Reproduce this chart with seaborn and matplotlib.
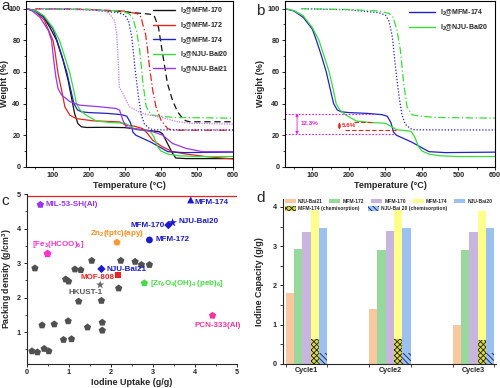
import numpy as np
import pandas as pd
import matplotlib
matplotlib.use('Agg')
import matplotlib.pyplot as plt
import seaborn as sns
from matplotlib.ticker import MultipleLocator
from matplotlib.patches import Patch
from matplotlib.lines import Line2D

sns.set_style('ticks')
plt.rcParams['font.family'] = ['Liberation Sans', 'DejaVu Sans']
plt.rcParams['font.weight'] = 'bold'
plt.rcParams['axes.labelweight'] = 'bold'
plt.rcParams['mathtext.fontset'] = 'custom'
plt.rcParams['mathtext.rm'] = 'Liberation Sans:bold'
plt.rcParams['mathtext.it'] = 'Liberation Sans:bold'
plt.rcParams['mathtext.bf'] = 'Liberation Sans:bold'
plt.rcParams['hatch.linewidth'] = 0.6

# ---------------- TGA data (panels a, b) ----------------
# I2-loaded samples (solid)
t_i2_170 = [25, 50, 70, 91, 110, 128, 142, 151, 160, 169, 179, 193, 250, 300, 321, 358, 395, 404, 418, 432, 441, 470, 600]
w_i2_170 = [100, 99, 96, 88.3, 80, 67.3, 54.7, 44.2, 33.7, 27.4, 25.3, 24.9, 25, 24.8, 24.2, 23.2, 22.2, 21, 14.8, 8.6, 5.6, 5.2, 5.2]

t_i2_172 = [25, 50, 75, 100, 105, 114, 124, 133, 147, 165, 211, 285, 303, 326, 349, 363, 377, 404, 432, 469, 524, 600]
w_i2_172 = [100, 98.5, 93, 80, 73.7, 59, 48.4, 37.9, 32.6, 30.5, 29.1, 28.4, 26.3, 25.7, 24.2, 21, 16.8, 12.7, 9.6, 8.1, 6.5, 5.0]

t_i2_174 = [25, 50, 75, 100, 111, 125, 138, 150, 158, 168, 179, 200, 250, 290, 305, 315, 322, 330, 373, 419, 464, 600]
w_i2_174 = [100, 98.5, 94.5, 87, 80, 70, 60, 48, 40, 36, 34.8, 34.3, 33.8, 33, 32, 28, 22, 20, 15.5, 9.6, 9, 9.3]

t_i2_b20 = [25, 50, 75, 100, 118, 132, 146, 158, 165, 175, 190, 220, 260, 300, 320, 330, 370, 380, 390, 400, 420, 450, 500, 600]
w_i2_b20 = [100, 98.8, 95.5, 88, 80, 70, 60, 48, 40, 36, 33, 29, 28, 27.6, 25, 23.5, 22.5, 19, 13, 10, 8, 7, 6.5, 6.5]

t_i2_b21 = [25, 40, 64, 87, 96, 102, 108, 114, 124, 147, 174, 229, 275, 285, 294, 303, 321, 377, 404, 432, 469, 515, 600]
w_i2_b21 = [100, 99, 94.5, 86.2, 80, 67.3, 56.8, 49.5, 45.4, 41.2, 39, 38, 36.9, 35.8, 29.5, 25.3, 24.2, 22.2, 20.1, 14.8, 11.7, 9.6, 9.6]

# pristine MOFs (broken lines)
t_m170 = [50, 200, 300, 370, 381, 393, 400, 409, 418, 432, 446, 460, 469, 480, 600]
w_m170 = [100, 99.5, 98, 96.5, 95.6, 88.3, 77.8, 65.2, 52.6, 42, 34.8, 30.6, 29.1, 28.5, 28.5]

t_m172 = [50, 200, 300, 335, 345, 349, 357, 363, 368, 377, 386, 400, 418, 432, 600]
w_m172 = [100, 99.5, 98.5, 96.7, 94.6, 90.4, 84.1, 73.6, 63.1, 48.4, 37.9, 29.5, 24.2, 23.2, 23.2]

t_m174 = [70, 200, 280, 300, 310, 319, 328, 337, 345, 354, 368, 380, 600]
w_m174 = [100, 99.3, 97.5, 96, 92, 82, 62, 45, 33, 27, 24.2, 23.4, 23.3]

t_mb20 = [70, 200, 283, 310, 321, 332, 341, 350, 359, 373, 395, 441, 600]
w_mb20 = [100, 99.5, 98.5, 97, 94.5, 86, 73.6, 52.6, 38, 32.9, 32, 31.2, 30.8]

t_mb21 = [50, 150, 220, 243, 257, 271, 277, 282, 284, 294, 312, 349, 413, 446, 487, 600]
w_mb21 = [100, 99.5, 99, 98.7, 96.7, 92.5, 84, 63.1, 50.5, 46.4, 38, 33.7, 30.6, 28.5, 27.5, 27]

# panel b annotations
b_pink_levels = [33.7, 20.5]
b_red_levels = [28.2, 23.5]

# ---------------- panel c data ----------------
gray_x = [0.20, 0.93, 1.00, 1.15, 1.29, 1.55, 2.24, 2.58, 2.73, 2.92, 2.19, 1.24, 1.78,
          0.37, 0.66, 0.99, 1.45, 1.80, 1.80, 0.88, 1.07, 0.13, 0.26, 0.42, 0.53]
gray_y = [2.85, 2.53, 2.47, 2.82, 2.80, 3.07, 3.07, 3.04, 2.95, 2.95, 2.27, 1.89, 1.91,
          1.20, 1.23, 1.32, 1.14, 1.28, 1.05, 0.78, 0.80, 0.45, 0.42, 0.52, 0.45]

lab_names = ['MIL-53-SH(Al)', 'MFM-174', 'MFM-170', 'NJU-Bai20', 'Zn$_2$(tptc)(apy)',
             'MFM-172', '[Fe$_3$(HCOO)$_6$]', 'NJU-Bai21', 'MOF-808', 'HKUST-1',
             '[Zr$_6$O$_4$(OH)$_4$ (peb)$_6$]', 'PCN-333(Al)']
lab_x = [0.33, 3.90, 3.37, 3.47, 2.15, 2.92, 0.50, 1.78, 2.17, 1.75, 2.80, 4.42]
lab_y = [4.69, 4.83, 4.10, 4.17, 3.60, 3.67, 3.27, 2.83, 2.65, 2.37, 2.42, 1.48]
limit_density = 4.93

# ---------------- panel d data ----------------
cycles = ['Cycle1', 'Cycle2', 'Cycle3']
materials = ['NJU-Bai21', 'MFM-172', 'MFM-170', 'MFM-174', 'NJU-Bai20']
cap_bai21 = [1.80, 1.40, 1.00]
cap_172 = [2.92, 2.89, 2.90]
cap_170 = [3.37, 3.38, 3.37]
cap_174 = [3.93, 3.93, 3.90]
cap_bai20 = [3.47, 3.46, 3.47]
chem_174 = [0.63, 0.63, 0.62]
chem_bai20 = [0.27, 0.27, 0.27]

# ---------------- style ----------------
C_BLACK = '#111111'
C_RED = '#E3261F'
C_BLUE = '#2121C4'
C_GREEN = '#3ADB3A'
C_PURPLE = '#9A35F0'
C_LPURPLE = '#C67CF7'
LABEL_FS = 6.5
TICK_FS = 5.2

fig = plt.figure(figsize=(5, 3.88), dpi=100)


def style_tga(ax, ylx):
    ax.set_xlim(25, 600)
    ax.set_ylim(0, 105)
    ax.xaxis.set_major_locator(MultipleLocator(100))
    ax.xaxis.set_minor_locator(MultipleLocator(50))
    ax.yaxis.set_major_locator(MultipleLocator(20))
    ax.yaxis.set_minor_locator(MultipleLocator(10))
    ax.set_xticks([100, 200, 300, 400, 500, 600])
    ax.tick_params(which='major', direction='out', length=2.5, width=0.7, labelsize=TICK_FS, pad=1.5)
    ax.tick_params(which='minor', direction='out', length=1.5, width=0.6)
    for s in ax.spines.values():
        s.set_linewidth(0.8)
        s.set_color('black')
    ax.set_xlabel('Temperature (°C)', fontsize=LABEL_FS, labelpad=1)
    ax.set_ylabel('Weight (%)', fontsize=LABEL_FS)
    ax.yaxis.set_label_coords(ylx, 0.5)


def line(ax, t, w, color, ls, lw=0.9, label=None):
    sns.lineplot(x=t, y=w, ax=ax, color=color, linestyle=ls, linewidth=lw,
                 sort=False, estimator=None, label=label, legend=False)

# ---------------- panel a ----------------
axa = fig.add_axes([0.052, 0.570, 0.414, 0.428])
line(axa, t_m170, w_m170, C_BLACK, (0, (5, 3)))
line(axa, t_m172, w_m172, C_RED, (0, (6, 2, 1, 2)))
line(axa, t_m174, w_m174, C_BLUE, (0, (1, 1.5)))
line(axa, t_mb20, w_mb20, C_GREEN, (0, (6, 2, 1, 2)))
line(axa, t_mb21, w_mb21, C_LPURPLE, (0, (1, 1)))
line(axa, t_i2_170, w_i2_170, C_BLACK, '-')
line(axa, t_i2_172, w_i2_172, C_RED, '-')
line(axa, t_i2_174, w_i2_174, C_BLUE, '-')
line(axa, t_i2_b20, w_i2_b20, C_GREEN, '-')
line(axa, t_i2_b21, w_i2_b21, C_PURPLE, '-')
style_tga(axa, -0.08)
hs = [Line2D([], [], color=c, lw=1) for c in [C_BLACK, C_RED, C_BLUE, C_GREEN, C_PURPLE]]
axa.legend(hs, ['I$_2$@MFM-170', 'I$_2$@MFM-172', 'I$_2$@MFM-174', 'I$_2$@NJU-Bai20', 'I$_2$@NJU-Bai21'],
           loc='upper right', frameon=False, fontsize=5, handlelength=3.2, labelspacing=0.55,
           borderaxespad=0.3, handletextpad=0.6)

# ---------------- panel b ----------------
axb = fig.add_axes([0.570, 0.570, 0.420, 0.428])
line(axb, t_m174, w_m174, C_BLUE, (0, (1, 1.5)))
line(axb, t_mb20, w_mb20, C_GREEN, (0, (6, 2, 1, 2)))
line(axb, t_i2_174, w_i2_174, C_BLUE, '-')
line(axb, t_i2_b20, w_i2_b20, C_GREEN, '-')
style_tga(axb, -0.095)
axb.hlines(b_pink_levels[0], 25, 268, colors='#E020E0', linestyles=(0, (1.5, 1.5)), lw=0.8)
axb.hlines(b_pink_levels[1], 25, 325, colors='#E020E0', linestyles=(0, (1.5, 1.5)), lw=0.8)
axb.hlines(b_red_levels[0], 215, 262, colors=C_RED, linestyles=(0, (4, 2)), lw=0.8)
axb.hlines(b_red_levels[1], 190, 330, colors=C_RED, linestyles=(0, (4, 2)), lw=0.8)
axb.annotate('', xy=(58, b_pink_levels[1]), xytext=(58, b_pink_levels[0]),
             arrowprops=dict(arrowstyle='<|-|>', color='#E020E0', lw=0.6, mutation_scale=4,
                             shrinkA=0, shrinkB=0))
axb.text(68, 27.2, '12.3%', color='#E020E0', fontsize=4.5, va='center')
axb.annotate('', xy=(174, b_red_levels[1]), xytext=(174, b_red_levels[0]),
             arrowprops=dict(arrowstyle='<|-|>', color=C_RED, lw=0.6, mutation_scale=4,
                             shrinkA=0, shrinkB=0))
axb.text(180, 26.0, '5.6%', color=C_RED, fontsize=4.5, va='center')
hs = [Line2D([], [], color=c, lw=1) for c in [C_BLUE, C_GREEN]]
axb.legend(hs, ['I$_2$@MFM-174', 'I$_2$@NJU-Bai20'], loc='upper right', frameon=False,
           fontsize=5, handlelength=3.8, labelspacing=0.55, borderaxespad=0.6, handletextpad=0.6)

# ---------------- panel c ----------------
axc = fig.add_axes([0.053, 0.062, 0.421, 0.438])
sns.scatterplot(x=gray_x, y=gray_y, ax=axc, marker='p', s=30, color='#505050', edgecolor='none', legend=False)
axc.axhline(limit_density, color='#E82020', lw=0.9)
mk = ['p', '^', 'D', '*', 'p', 'o', 'p', 'D', 's', '*', 'p', 'p']
mcol = ['#9933EE', '#1A1ACC', '#1A1ACC', '#1A1ACC', '#FF9933', '#1A1ACC', '#FF33CC', '#1A1ACC',
        '#EE2222', '#666666', '#44DD44', '#FF3399']
msz = [30, 26, 18, 45, 30, 24, 36, 18, 16, 40, 30, 30]
for i in range(len(lab_names)):
    sns.scatterplot(x=[lab_x[i]], y=[lab_y[i]], ax=axc, marker=mk[i], s=msz[i], color=mcol[i],
                    edgecolor='none', legend=False)
txt_pos = [(0.45, 4.69, 'left'), (4.0, 4.76, 'left'), (3.28, 4.10, 'right'), (3.6, 4.20, 'left'),
           (2.15, 3.86, 'center'), (3.06, 3.67, 'left'), (0.76, 3.53, 'center'), (1.89, 2.80, 'left'),
           (1.69, 2.59, 'center'), (1.40, 2.16, 'center'), (2.93, 2.40, 'left'), (4.55, 1.19, 'center')]
tcol = ['#9933EE', '#1A1ACC', '#1A1ACC', '#1A1ACC', '#FF8C1A', '#1A1ACC', '#FF33CC', '#1A1ACC',
        '#EE2222', '#555555', '#44DD44', '#FF3399']
for (tx, ty, ha), name, c in zip(txt_pos, lab_names, tcol):
    axc.text(tx, ty, name, color=c, fontsize=5.8, ha=ha, va='center', fontweight='bold')
axc.set_xlim(0, 5)
axc.set_ylim(0.08, 5.0)
axc.xaxis.set_major_locator(MultipleLocator(1))
axc.xaxis.set_minor_locator(MultipleLocator(0.5))
axc.yaxis.set_major_locator(MultipleLocator(1))
axc.yaxis.set_minor_locator(MultipleLocator(0.5))
axc.tick_params(which='major', direction='out', length=2.5, width=0.7, labelsize=TICK_FS, pad=1.5)
axc.tick_params(which='minor', direction='out', length=1.5, width=0.6)
sns.despine(ax=axc)
for s in axc.spines.values():
    s.set_linewidth(0.8)
axc.set_xlabel('Iodine Uptake (g/g)', fontsize=LABEL_FS, labelpad=1)
axc.set_ylabel('Packing density (g/cm$^3$)', fontsize=6.3)
axc.yaxis.set_label_coords(-0.058, 0.5)

# ---------------- panel d ----------------
axd = fig.add_axes([0.566, 0.062, 0.426, 0.425])
df = pd.DataFrame({
    'cycle': cycles * 5,
    'material': np.repeat(materials, 3),
    'value': cap_bai21 + cap_172 + cap_170 + cap_174 + cap_bai20,
})
pal = ['#F9C89E', '#99D89C', '#C7B5DD', '#FFFF8C', '#9CC1F0']
sns.barplot(data=df, x='cycle', y='value', hue='material', order=cycles, hue_order=materials,
            palette=pal, width=0.5, saturation=1, ax=axd, legend=False, linewidth=0, gap=0)
bars174 = axd.containers[3]
bars20 = axd.containers[4]
for b, v in zip(bars174, chem_174):
    axd.bar(b.get_x(), v, width=b.get_width(), align='edge', facecolor='#D8D850',
            edgecolor='#222200', hatch='xxxxxx', linewidth=0)
for b, v in zip(bars20, chem_bai20):
    axd.bar(b.get_x(), v, width=b.get_width(), align='edge', facecolor='#9CC1F0',
            edgecolor='#10205A', hatch='\\\\\\\\\\\\', linewidth=0)
axd.set_xlim(-0.28, 2.27)
axd.set_ylim(0, 4.2)
axd.yaxis.set_major_locator(MultipleLocator(1))
axd.yaxis.set_minor_locator(MultipleLocator(0.5))
axd.set_xticks([-0.25, 0.25, 0.75, 1.25, 1.75, 2.25], minor=True)
axd.tick_params(which='major', direction='out', length=0, width=0.7, labelsize=TICK_FS, pad=2)
axd.tick_params(axis='y', which='major', length=2.5)
axd.tick_params(which='minor', direction='out', length=2.5, width=0.6)
sns.despine(ax=axd)
for s in axd.spines.values():
    s.set_linewidth(0.8)
axd.set_xlabel('')
axd.set_ylabel('Iodine Capacity (g/g)', fontsize=LABEL_FS)
axd.yaxis.set_label_coords(-0.09, 0.5)
h1 = [Patch(facecolor=c, edgecolor='none') for c in pal]
leg1 = axd.legend(h1, materials, loc='upper left', bbox_to_anchor=(0.0, 1.01), ncol=5, frameon=False,
                  fontsize=3.6, handlelength=2.2, handleheight=1.0, columnspacing=1.3,
                  handletextpad=0.5, borderaxespad=0.1, borderpad=0.2)
axd.add_artist(leg1)
h2 = [Patch(facecolor='#D8D850', edgecolor='#222200', hatch='xxxxxx', linewidth=0),
      Patch(facecolor='#9CC1F0', edgecolor='#10205A', hatch='\\\\\\\\\\\\', linewidth=0)]
axd.legend(h2, ['MFM-174 (chemisorption)', 'NJU-Bai 20 (chemisorption)'], loc='upper left',
           bbox_to_anchor=(0.0, 0.965), ncol=2, frameon=False, fontsize=3.6, handlelength=2.2,
           handleheight=1.0, columnspacing=1.6, handletextpad=0.5, borderaxespad=0.1, borderpad=0.2)

# ---------------- panel letters ----------------
fig.text(0.002, 0.985, 'a', fontsize=11, fontweight='normal', va='center')
fig.text(0.512, 0.972, 'b', fontsize=11, fontweight='normal', va='center')
fig.text(0.002, 0.483, 'c', fontsize=11, fontweight='normal', va='center')
fig.text(0.512, 0.490, 'd', fontsize=11, fontweight='normal', va='center')

fig.savefig('out.png', dpi=100)
